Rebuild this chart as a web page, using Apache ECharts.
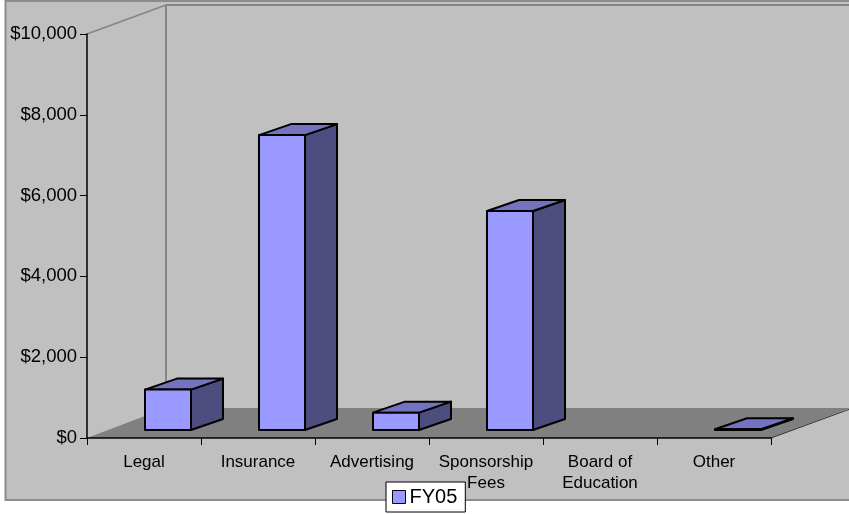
<!DOCTYPE html>
<html><head><meta charset="utf-8">
<style>html,body{margin:0;padding:0;background:#fff}#c{width:849px;height:514px}</style>
<script src="https://cdn.jsdelivr.net/npm/echarts@6/dist/echarts.min.js"></script>
</head><body><div id="c"></div>
<script>
const categories = ['Legal','Insurance','Advertising','Sponsorship\nFees','Board of\nEducation','Other'];
const fy05 = [1000, 7300, 430, 5420, null, 20];
const yTicks = {min:0, max:10000, interval:2000};

const depthX = 32, depthY = -11, liftY = -8, wallX = 79, wallY = -29;
const font = '"Liberation Sans", Arial, sans-serif';
const chart = echarts.init(document.getElementById('c'), null, {renderer:'canvas'});

function poly(points, fill, stroke, lw){
  return {type:'polygon', shape:{points}, style:{fill, stroke, lineWidth:lw, lineJoin:'round'}};
}
function renderWalls(params){
  const c = params.coordSys, l=c.x, r=c.x+c.width, t=c.y, b=c.y+c.height;
  const grey='#858585';
  return {type:'group', children:[
    {type:'rect', shape:{x:5.5,y:1,width:900,height:499}, style:{fill:'#C0C0C0', stroke:'#8c8c8c', lineWidth:2}},
    poly([[l,b],[r,b],[r+wallX,b+wallY-1],[l+wallX,b+wallY-1]], '#808080', null, 0),
    {type:'line', shape:{x1:l,y1:t,x2:l+wallX,y2:t+wallY}, style:{stroke:grey, lineWidth:1.5}},
    {type:'line', shape:{x1:l+wallX,y1:t+wallY,x2:900,y2:t+wallY}, style:{stroke:grey, lineWidth:2}},
    {type:'line', shape:{x1:l+wallX,y1:t+wallY,x2:l+wallX,y2:b+wallY}, style:{stroke:grey, lineWidth:2}},
    {type:'line', shape:{x1:r,y1:b,x2:r+wallX,y2:b+wallY}, style:{stroke:'#333', lineWidth:1}}
  ]};
}
function renderBar(params, api){
  const v = api.value(1);
  if (v == null || isNaN(v)) return;
  const i = api.value(0);
  const band = api.size([1,0])[0];
  const top = api.coord([i, v]);
  const base = api.coord([i, 0]);
  const w = 46;
  const cx = top[0] + band*24/114;
  const x0 = cx - w/2, x1 = cx + w/2;
  const y0 = top[1] + liftY, y1 = base[1] + liftY;
  const k='#000', lw=2;
  return {type:'group', children:[
    poly([[x1,y0],[x1+depthX,y0+depthY],[x1+depthX,y1+depthY],[x1,y1]], '#4D4D80', k, lw),
    poly([[x0,y0],[x0+depthX,y0+depthY],[x1+depthX,y0+depthY],[x1,y0]], '#7373BF', k, lw),
    {type:'rect', shape:{x:x0,y:y0,width:w,height:y1-y0}, style:{fill:'#9999FF', stroke:k, lineWidth:lw, lineJoin:'round'}}
  ]};
}
chart.setOption({
  animation:false,
  backgroundColor:'#fff',
  grid:{left:87, right:78, top:34, bottom:76, containLabel:false},
  legend:{
    data:[{name:'FY05', icon:'rect'}],
    left:386, top:482,
    padding:[5,8,5,6],
    itemWidth:13, itemHeight:13, itemGap:0,
    backgroundColor:'#fff', borderColor:'#000', borderWidth:1, borderRadius:0,
    textStyle:{fontFamily:font, fontSize:20, color:'#000', padding:[0,0,0,-1]},
    itemStyle:{color:'#9999FF', borderColor:'#000', borderWidth:1},
    selectedMode:false
  },
  xAxis:{
    type:'category', data:categories, boundaryGap:true, z:10,
    axisLine:{lineStyle:{color:'#000', width:1.5}},
    axisTick:{show:true, alignWithLabel:false, length:7, lineStyle:{color:'#000'}},
    axisLabel:{interval:0, margin:14, fontFamily:font, fontSize:17, lineHeight:21, color:'#000'}
  },
  yAxis:{
    type:'value', min:yTicks.min, max:yTicks.max, interval:yTicks.interval, z:10,
    splitLine:{show:false},
    axisLine:{show:true, lineStyle:{color:'#000', width:1.5}},
    axisTick:{show:true, length:7, lineStyle:{color:'#000'}},
    axisLabel:{margin:10, fontFamily:font, fontSize:18.5, color:'#000',
      formatter:v=>'$'+v.toLocaleString('en-US')}
  },
  series:[
    {type:'custom', name:'walls', silent:true, z:1, data:[[0,0]], renderItem:renderWalls, tooltip:{show:false}},
    {type:'custom', name:'FY05', z:3, itemStyle:{color:'#9999FF'},
     encode:{x:0,y:1},
     data:fy05.map((v,i)=>[i,v]), renderItem:renderBar}
  ]
});
</script></body></html>
